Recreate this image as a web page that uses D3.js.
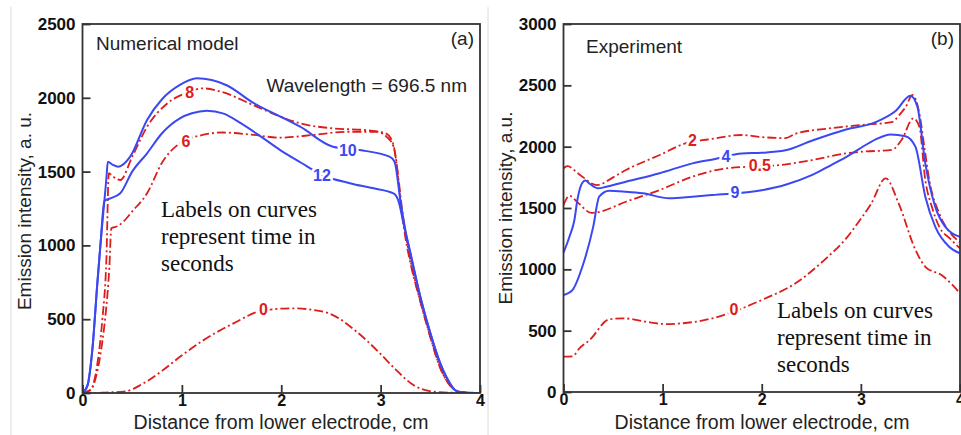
<!DOCTYPE html>
<html><head><meta charset="utf-8">
<script src="https://cdn.jsdelivr.net/npm/d3@7"></script>
<style>
body{margin:0;background:#fff;}
svg{display:block;}
</style>
</head><body>
<svg id="chart" width="961" height="435"></svg>
<script>
// ---------- DATA ----------
// Panel (a) Numerical model
const a_x10 = [0,0.05,0.1,0.15,0.18,0.22,0.24,0.255,0.3,0.36,0.48,0.65,0.8,0.98,1.15,1.3,1.45,1.72,2.0,2.19,2.52,2.79,3.09,3.14,3.2,3.25,3.3,3.4,3.5,3.6,3.66,3.76,3.85,4.0];
const a_v10 = [0,50,300,750,1000,1300,1450,1567,1548,1533,1601,1850,1990,2087,2132,2120,2085,1965,1870,1804,1669,1646,1601,1567,1300,1100,950,650,406,200,110,14,2,0];
const a_x12 = [0,0.05,0.1,0.15,0.18,0.22,0.28,0.38,0.5,0.65,0.8,0.98,1.1,1.25,1.42,1.6,1.8,1.99,2.2,2.41,2.7,2.9,3.13,3.18,3.23,3.3,3.4,3.5,3.6,3.66,3.76,3.85,4.0];
const a_v12 = [0,50,300,750,1000,1300,1319,1353,1500,1624,1760,1861,1895,1913,1893,1825,1735,1646,1560,1477,1420,1390,1353,1300,1150,940,650,406,200,110,14,2,0];
const a_x8 = [0,0.08,0.15,0.2,0.24,0.265,0.3,0.38,0.5,0.65,0.85,1.08,1.21,1.4,1.72,2.0,2.19,2.52,2.86,3.05,3.12,3.16,3.2,3.25,3.3,3.4,3.5,3.6,3.7,3.8,4.0];
const a_v8 = [0,20,200,500,900,1490,1470,1443,1600,1804,1960,2041,2064,2040,1950,1870,1827,1793,1780,1760,1700,1560,1300,1050,880,620,380,170,50,8,0];
const a_x6 = [0,0.08,0.15,0.2,0.23,0.27,0.29,0.35,0.41,0.5,0.65,0.8,0.98,1.21,1.41,1.7,1.99,2.32,2.66,2.96,3.06,3.13,3.18,3.22,3.3,3.4,3.5,3.6,3.7,3.8,4.0];
const a_v6 = [0,20,150,350,517,850,1116,1130,1160,1230,1353,1560,1692,1748,1765,1750,1730,1748,1770,1770,1736,1669,1450,1220,900,620,380,170,50,8,0];
const a_x0 = [0,0.2,0.3,0.44,0.6,0.8,0.98,1.2,1.52,1.82,2.12,2.3,2.52,2.75,2.99,3.15,3.33,3.53,3.7,4.0];
const a_v0 = [0,2,5,12,60,150,245,350,472,560,574,565,528,420,271,160,54,9,2,0];

// Panel (b) Experiment
const b_x2 = [0,0.04,0.15,0.34,0.5,0.63,0.97,1.23,1.47,1.8,2.0,2.24,2.34,2.68,3.01,3.31,3.41,3.45,3.52,3.59,3.64,3.69,3.79,3.9,4.0];
const b_v2 = [1823,1842,1780,1687,1750,1810,1932,2027,2060,2095,2078,2070,2105,2149,2177,2200,2280,2320,2421,2272,2000,1728,1456,1300,1220];
const b_x05 = [0,0.06,0.15,0.28,0.34,0.63,0.97,1.3,1.64,2.18,2.51,2.85,3.01,3.31,3.41,3.53,3.59,3.65,3.72,3.79,3.9,4.0];
const b_v05 = [1524,1600,1540,1460,1465,1551,1647,1755,1823,1850,1891,1946,1959,1973,2054,2231,2163,1728,1500,1348,1250,1170];
const b_x4 = [0,0.06,0.11,0.14,0.18,0.22,0.26,0.35,0.43,0.63,0.97,1.3,1.53,1.8,2.0,2.24,2.51,2.85,3.15,3.35,3.5,3.57,3.65,3.75,3.85,4.0];
const b_v4 = [1136,1266,1402,1565,1690,1725,1700,1660,1673,1714,1783,1864,1900,1945,1950,1970,2050,2140,2200,2290,2415,2326,1864,1511,1348,1266];
const b_x9 = [0,0.09,0.19,0.3,0.36,0.46,0.63,0.8,1.07,1.3,1.5,2.0,2.24,2.51,2.7,2.85,2.98,3.15,3.3,3.45,3.55,3.65,3.75,3.89,4.0];
const b_v9 = [790,831,1021,1348,1592,1641,1633,1620,1579,1592,1606,1645,1690,1770,1850,1915,1980,2060,2100,2085,2000,1592,1348,1184,1130];
const b_x0 = [0,0.09,0.16,0.26,0.46,0.6,0.83,1.03,1.5,1.73,2.0,2.34,2.65,2.85,2.98,3.1,3.25,3.38,3.55,3.65,3.82,4.0];
const b_v0 = [288,290,356,420,592,601,573,554,600,660,750,886,1090,1250,1390,1530,1742,1540,1160,1021,950,805];

// Curve labels: [text, x, value, colour key]
const a_labels = [["8",1.08,2039,"r"],["6",1.04,1707,"r"],["10",2.67,1646,"b"],["12",2.41,1477,"b"],["0",1.82,569,"r"]];
const b_labels = [["2",1.3,2054,"r"],["4",1.64,1924,"b"],["0.5",1.98,1850,"r"],["9",1.73,1625,"b"],["0",1.72,677,"r"]];

const xTicks = [0,1,2,3,4];
const a_yTicks = [0,500,1000,1500,2000,2500];
const b_yTicks = [0,500,1000,1500,2000,2500,3000];

// ---------- DRAW ----------
const RED = "#dd1c1c", BLUE = "#3b48f2";
const FONT = "Arial, 'Liberation Sans', sans-serif";
const svg = d3.select("#chart");
svg.append("rect").attr("width",961).attr("height",435).attr("fill","#fff");
// faint image borders
[11,488].forEach(x=>svg.append("line").attr("x1",x).attr("x2",x).attr("y1",7).attr("y2",435)
  .attr("stroke","#dcdcdc").attr("stroke-width",1));

function panel(cfg){
  const x = d3.scaleLinear().domain([0,4]).range([cfg.x0,cfg.x1]);
  const y = d3.scaleLinear().domain([0,cfg.ymax]).range([cfg.yb,cfg.yt]);
  const g = svg.append("g");
  const clipId = "clip"+cfg.id;
  svg.append("clipPath").attr("id",clipId).append("rect")
    .attr("x",cfg.x0).attr("y",cfg.yt).attr("width",cfg.x1-cfg.x0).attr("height",cfg.yb-cfg.yt);
  const line = d3.line().x(d=>x(d[0])).y(d=>y(d[1])).curve(d3.curveMonotoneX);
  const curves = g.append("g").attr("clip-path",`url(#${clipId})`);
  cfg.series.forEach(s=>{
    const pts = s.xs.map((v,i)=>[v,s.vs[i]]);
    curves.append("path").attr("d",line(pts)).attr("fill","none")
      .attr("stroke",s.c==="r"?RED:BLUE).attr("stroke-width",s.c==="r"?1.8:2)
      .attr("stroke-dasharray",s.c==="r"?"9,3,2,3":null);
  });
  // curve labels with white halo to cut lines
  cfg.labels.forEach(l=>{
    g.append("text").attr("x",x(l[1])).attr("y",y(l[2])).attr("dy","0.35em")
      .attr("text-anchor","middle").attr("font-family",FONT)
      .attr("font-weight","bold").attr("font-size",16)
      .attr("fill",l[3]==="r"?RED:BLUE).attr("stroke","#fff").attr("stroke-width",5)
      .attr("paint-order","stroke").text(l[0]);
  });
  // frame
  g.append("rect").attr("x",cfg.x0).attr("y",cfg.yt).attr("width",cfg.x1-cfg.x0).attr("height",cfg.yb-cfg.yt)
    .attr("fill","none").attr("stroke","#333").attr("stroke-width",1.8);
  // axes (inward ticks)
  const ax = g.append("g").attr("transform",`translate(0,${cfg.yb})`)
    .call(d3.axisBottom(x).tickValues(xTicks).tickSize(-8).tickPadding(3).tickFormat(d3.format("d")));
  const ay = g.append("g").attr("transform",`translate(${cfg.x0},0)`)
    .call(d3.axisLeft(y).tickValues(cfg.yTicks).tickSize(-8).tickPadding(7).tickFormat(d3.format("d")));
  [ax,ay].forEach(a=>{
    a.select(".domain").remove();
    a.selectAll(".tick line").attr("stroke","#333").attr("stroke-width",1.8);
    a.selectAll(".tick text").attr("font-family",FONT)
      .attr("font-weight","bold").attr("font-size",17).attr("fill","#111");
  });
  ax.selectAll(".tick text").attr("dy",null).attr("y",13).attr("font-size",16);
  // titles
  g.append("text").attr("x",cfg.xtX).attr("y",429).attr("text-anchor","middle")
    .attr("font-family",FONT).attr("font-size",19.5).attr("fill","#222")
    .text("Distance from lower electrode, cm");
  g.append("text").attr("transform",`translate(${cfg.ytx},${cfg.yty}) rotate(-90)`).attr("text-anchor","middle")
    .attr("font-family",FONT).attr("font-size",19).attr("fill","#222")
    .text(cfg.ytitle);
  g.append("text").attr("x",cfg.tagX).attr("y",cfg.tagY).attr("font-family",FONT)
    .attr("font-size",19).attr("fill","#222").text(cfg.tag);
  g.append("text").attr("x",cfg.pX).attr("y",45).attr("text-anchor","end").attr("font-family",FONT)
    .attr("font-size",19).attr("fill","#222").text(cfg.p);
  const note = g.append("text").attr("font-family","'Liberation Serif','Times New Roman',serif")
    .attr("font-size",23).attr("fill","#111");
  ["Labels on curves","represent time in","seconds"].forEach((t,i)=>{
    note.append("tspan").attr("x",cfg.noteX).attr("y",cfg.noteY+i*27).text(t);
  });
  return g;
}

panel({id:"a",x0:82.5,x1:480,yt:24,yb:393,ymax:2500,yTicks:a_yTicks,
  series:[{xs:a_x0,vs:a_v0,c:"r"},{xs:a_x6,vs:a_v6,c:"r"},{xs:a_x8,vs:a_v8,c:"r"},{xs:a_x12,vs:a_v12,c:"b"},{xs:a_x10,vs:a_v10,c:"b"}],
  labels:a_labels, ytitle:"Emission intensity, a. u.", ytx:31, yty:211, xtX:281,
  tag:"Numerical model", tagX:96, tagY:50, p:"(a)", pX:474, noteX:161, noteY:217});
svg.append("text").attr("x",467).attr("y",92).attr("text-anchor","end")
  .attr("font-family",FONT).attr("font-size",19).attr("fill","#222")
  .text("Wavelength = 696.5 nm");

panel({id:"b",x0:563.5,x1:960,yt:24,yb:392,ymax:3000,yTicks:b_yTicks,
  series:[{xs:b_x0,vs:b_v0,c:"r"},{xs:b_x05,vs:b_v05,c:"r"},{xs:b_x2,vs:b_v2,c:"r"},{xs:b_x9,vs:b_v9,c:"b"},{xs:b_x4,vs:b_v4,c:"b"}],
  labels:b_labels, ytitle:"Emission intensity, a.u.", ytx:512, yty:208, xtX:762,
  tag:"Experiment", tagX:586, tagY:53, p:"(b)", pX:954, noteX:777, noteY:318});
</script>
</body></html>
